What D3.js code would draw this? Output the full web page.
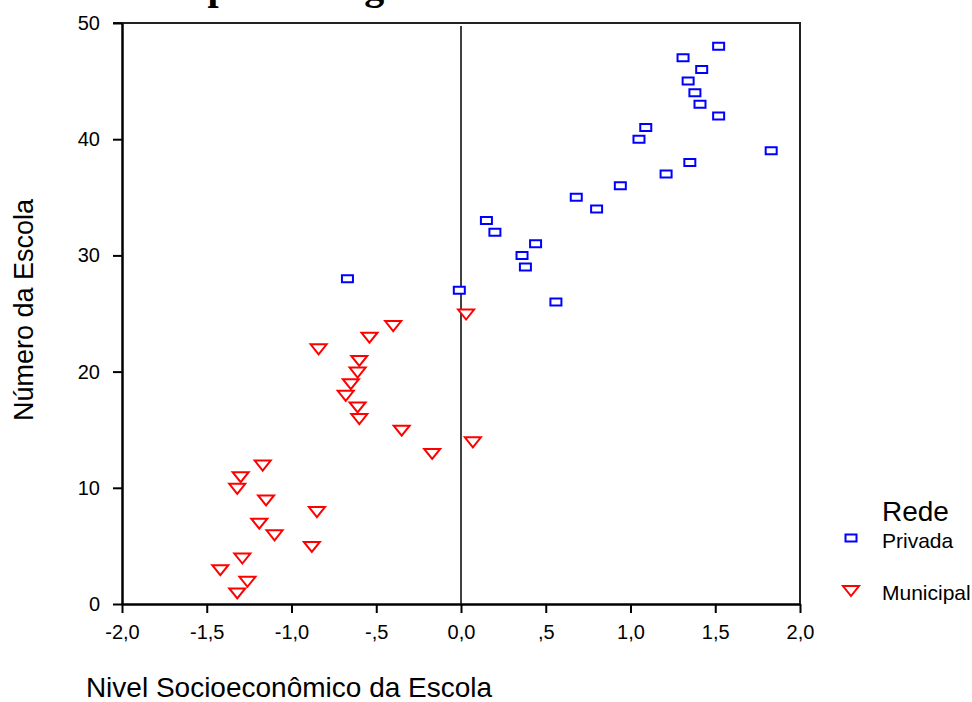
<!DOCTYPE html>
<html>
<head>
<meta charset="utf-8">
<script src="https://cdn.jsdelivr.net/npm/d3@7"></script>
<style>
  body { margin: 0; background: #fff; }
  text { font-family: "Liberation Sans", Arial, sans-serif; fill: #000; }
</style>
</head>
<body>
<svg id="chart" width="972" height="702"></svg>
<script>
// Scatter: Nivel Socioeconomico x Numero da Escola, by rede

var privadaNse = [1.52, 1.31, 1.42, 1.34, 1.38, 1.41, 1.52, 1.09, 1.05, 1.83, 1.35, 1.21,
                  0.94, 0.68, 0.80, 0.15, 0.20, 0.44, 0.36, 0.38, -0.67, -0.01, 0.56];
var privadaNum = [48, 47, 46, 45, 44, 43, 42, 41, 40, 39, 38, 37,
                  36, 35, 34, 33, 32, 31, 30, 29, 28, 27, 26];

var municipalNse = [0.03, -0.40, -0.54, -0.84, -0.60, -0.61, -0.65, -0.68, -0.61, -0.60,
                    -0.35, 0.07, -0.17, -1.17, -1.30, -1.32, -1.15, -0.85, -1.19, -1.10,
                    -0.88, -1.29, -1.42, -1.26, -1.32];
var municipalNum = [25, 24, 23, 22, 21, 20, 19, 18, 17, 16,
                    15, 14, 13, 12, 11, 10, 9, 8, 7, 6,
                    5, 4, 3, 2, 1];

var xTicks = [-2, -1.5, -1, -0.5, 0, 0.5, 1, 1.5, 2];
var xTickLabels = ["-2,0", "-1,5", "-1,0", "-,5", "0,0", ",5", "1,0", "1,5", "2,0"];
var yTicks = [0, 10, 20, 30, 40, 50];

var series = ["Privada", "Municipal"];

var svg = d3.select("#chart");

var x = d3.scaleLinear().domain([-2, 2]).range([122, 800]);
var y = d3.scaleLinear().domain([0, 50]).range([604, 23]);

// title (cut off at the top of the picture, only descenders show)
svg.append("text")
  .attr("x", 152)
  .attr("y", -1)
  .style("font-family", "'Liberation Serif', 'Times New Roman', serif")
  .style("font-weight", "bold")
  .style("font-size", "40px")
  .text("Dispersão segundo a rede");

// frame top + right
svg.append("path")
  .attr("d", "M" + (x(-2) - 9) + "," + y(50) + "H" + x(2) + "V" + y(0))
  .attr("fill", "none")
  .attr("stroke", "#222")
  .attr("stroke-width", 2);

// reference line at 0
svg.append("line")
  .attr("x1", x(0)).attr("x2", x(0))
  .attr("y1", y(50) + 3).attr("y2", y(0))
  .attr("stroke", "#000")
  .attr("stroke-width", 1.5);

var xAxis = svg.append("g")
  .attr("transform", "translate(0," + y(0) + ")")
  .call(d3.axisBottom(x).tickValues(xTicks).tickSize(9).tickSizeOuter(0)
    .tickFormat(function (d, i) { return xTickLabels[i]; }));

var yAxis = svg.append("g")
  .attr("transform", "translate(" + x(-2) + ",0)")
  .call(d3.axisLeft(y).tickValues(yTicks).tickSize(9).tickSizeOuter(0));

[xAxis, yAxis].forEach(function (ax) {
  ax.select(".domain").attr("stroke", "#000").attr("stroke-width", 2.5);
  ax.selectAll(".tick line").attr("stroke", "#000").attr("stroke-width", 2);
  ax.selectAll(".tick text")
    .style("font-family", "'Liberation Sans', Arial, sans-serif")
    .style("font-size", "20px")
    .attr("fill", "#000");
});
xAxis.selectAll(".tick text").attr("dy", "1.05em").attr("y", 14);
yAxis.selectAll(".tick text").attr("x", -22);

// markers
var squarePath = function () {
  return "M-5.5,-3.5H5.5V3.5H-5.5Z";
};
var trianglePath = function () {
  return "M-8,-4H8L0,6Z";
};

svg.append("g").selectAll("path")
  .data(d3.range(privadaNse.length))
  .enter().append("path")
  .attr("transform", function (i) {
    return "translate(" + x(privadaNse[i]) + "," + y(privadaNum[i]) + ")";
  })
  .attr("d", squarePath)
  .attr("fill", "#fff")
  .attr("stroke", "#0000ff")
  .attr("stroke-width", 2);

svg.append("g").selectAll("path")
  .data(d3.range(municipalNse.length))
  .enter().append("path")
  .attr("transform", function (i) {
    return "translate(" + x(municipalNse[i]) + "," + y(municipalNum[i]) + ")";
  })
  .attr("d", trianglePath)
  .attr("fill", "#fff")
  .attr("stroke", "#ff0000")
  .attr("stroke-width", 2);

// axis titles
svg.append("text")
  .attr("transform", "translate(33,310) rotate(-90)")
  .attr("text-anchor", "middle")
  .style("font-size", "27px")
  .text("Número da Escola");

svg.append("text")
  .attr("x", 289)
  .attr("y", 697)
  .attr("text-anchor", "middle")
  .style("font-size", "28px")
  .text("Nivel Socioeconômico da Escola");

// legend
var legend = svg.append("g");
legend.append("text")
  .attr("x", 882).attr("y", 521)
  .style("font-size", "28px")
  .text("Rede");

var lg = legend.selectAll("g.item")
  .data(series)
  .enter().append("g")
  .attr("class", "item")
  .attr("transform", function (d, i) { return "translate(0," + (540 + i * 52) + ")"; });

lg.append("path")
  .attr("transform", "translate(851,-2)")
  .attr("d", function (d, i) { return i === 0 ? squarePath() : trianglePath(); })
  .attr("fill", "#fff")
  .attr("stroke", function (d, i) { return i === 0 ? "#0000ff" : "#ff0000"; })
  .attr("stroke-width", 2);

lg.append("text")
  .attr("x", 882).attr("y", 8)
  .style("font-size", "21px")
  .text(function (d) { return d; });
</script>
</body>
</html>
